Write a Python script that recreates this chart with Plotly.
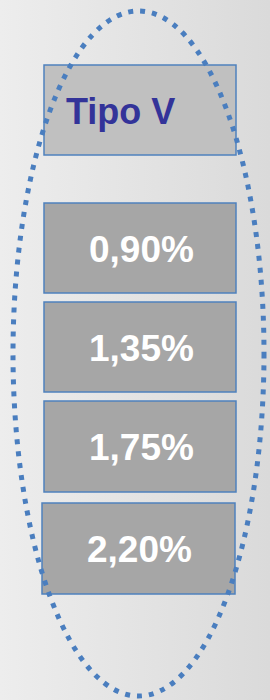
import plotly.graph_objects as go

header_label = "Tipo V"
value_labels = ["0,90%", "1,35%", "1,75%", "2,20%"]

W, H = 270, 700
fig = go.Figure()

# background gradient
fig.add_trace(go.Scatter(
    x=[0, W, W, 0, 0], y=[0, 0, H, H, 0], mode="lines", line=dict(width=0),
    fill="toself",
    fillgradient=dict(type="horizontal", colorscale=[[0, "#ededed"], [1, "#dadada"]]),
    hoverinfo="skip", showlegend=False))

border = "#4f81bd"
shapes = []
# header box
shapes.append(dict(type="rect", x0=44, x1=236, y0=65, y1=155,
                   fillcolor="#c0c0c0", line=dict(color=border, width=1.5), layer="above"))
annotations = [dict(x=64, y=111, xref="x", yref="y", text="<b>%s</b>" % header_label,
                    showarrow=False, xanchor="left", yanchor="middle",
                    font=dict(family="Liberation Sans, Arial", size=36, color="#333399"))]

boxes = [(44, 236, 203, 293), (44, 236, 302, 392), (44, 236, 401, 492), (42, 235, 503, 594)]
for (x0, x1, y0, y1), lab in zip(boxes, value_labels):
    shapes.append(dict(type="rect", x0=x0, x1=x1, y0=y0, y1=y1,
                       fillcolor="#a6a6a6", line=dict(color=border, width=1.5), layer="above"))
    annotations.append(dict(x=(x0 + x1) / 2 + 1, y=(y0 + y1) / 2 + 1, xref="x", yref="y",
                            text="<b>%s</b>" % lab, showarrow=False,
                            xanchor="center", yanchor="middle",
                            font=dict(family="Liberation Sans, Arial", size=37, color="white")))

# dotted ellipse
shapes.append(dict(type="circle", x0=13, x1=264, y0=11, y1=696,
                   line=dict(color="#4a7ebf", width=5, dash="5px,7px"), layer="above"))

fig.update_layout(
    width=W, height=H, margin=dict(l=0, r=0, t=0, b=0),
    paper_bgcolor="#e4e4e4", plot_bgcolor="#e4e4e4",
    xaxis=dict(range=[0, W], visible=False, fixedrange=True),
    yaxis=dict(range=[H, 0], visible=False, fixedrange=True),
    shapes=shapes, annotations=annotations, showlegend=False)

fig.write_html("out.html", config={"displayModeBar": False},
               post_script="document.body.style.margin='0';document.body.style.overflow='hidden';")
